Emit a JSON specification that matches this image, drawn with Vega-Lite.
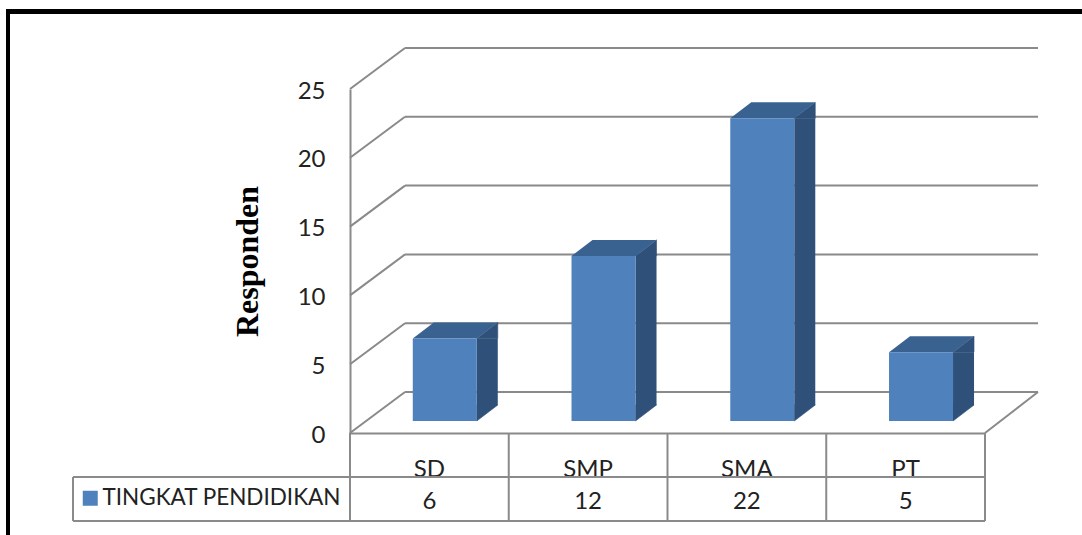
{
 "$schema":"https://vega.github.io/schema/vega-lite/v6.json",
 "width":635,"height":344,
 "autosize":{"type":"none"},
 "padding":{"left":350,"top":89,"right":97,"bottom":102},
 "background":"white",
 "config":{"view":{"stroke":null},"font":"Lato"},
 "data":{"values":[
  {"kategori":"SD","responden":6,"seri":"TINGKAT PENDIDIKAN"},
  {"kategori":"SMP","responden":12,"seri":"TINGKAT PENDIDIKAN"},
  {"kategori":"SMA","responden":22,"seri":"TINGKAT PENDIDIKAN"},
  {"kategori":"PT","responden":5,"seri":"TINGKAT PENDIDIKAN"}
 ]},
 "layer":[
  {"data":{"values":[{"t":0},{"t":5},{"t":10},{"t":15},{"t":20},{"t":25}]},
   "mark":{"type":"rule","stroke":"#8a8a8a","strokeWidth":2,"yOffset":-41},
   "encoding":{"x":{"value":55},"x2":{"value":688},
    "y":{"field":"t","type":"quantitative","scale":{"domain":[0,25],"nice":false},
      "axis":{"title":"Responden","titleFont":"Liberation Serif","titleFontWeight":"bold","titleFontSize":32,"titleColor":"black","titleX":-86,"values":[0,5,10,15,20,25],"grid":false,"ticks":false,"labelFont":"Lato","labelFontSize":24,"labelColor":"#222222","labelPadding":25,"labelOffset":2,"domainColor":"#8a8a8a","domainWidth":2}}}},
  {"data":{"values":[{"t":0},{"t":5},{"t":10},{"t":15},{"t":20},{"t":25}]},
   "mark":{"type":"point","shape":"M0,0L55,-41","size":4,"filled":false,"stroke":"#8a8a8a","strokeWidth":2,"opacity":1},
   "encoding":{"x":{"value":0},"y":{"field":"t","type":"quantitative","scale":{"domain":[0,25],"nice":false}}}},
  {"data":{"values":[{"t":0}]},
   "mark":{"type":"point","shape":"M0,0L53,-41","size":4,"filled":false,"stroke":"#8a8a8a","strokeWidth":2,"opacity":1},
   "encoding":{"x":{"value":635},"y":{"field":"t","type":"quantitative","scale":{"domain":[0,25],"nice":false}}}},
  {"mark":{"type":"bar","width":21,"xOffset":57.9,"yOffset":-12,"y2Offset":-28,"color":"#2f5179"},
   "encoding":{
    "x":{"field":"kategori","type":"nominal","sort":null,"scale":{"type":"band","domain":["SD","SMP","SMA","PT"],"paddingInner":0,"paddingOuter":0},
      "axis":{"title":null,"labelAngle":0,"labelFont":"Lato","labelFontSize":24,"labelColor":"#222222","labelPadding":24,"ticks":false,"domainColor":"#8a8a8a","domainWidth":2}},
    "y":{"field":"responden","type":"quantitative","stack":null,"scale":{"domain":[0,25],"nice":false}},
    "y2":{"datum":0}}},
  {"mark":{"type":"point","shape":"M47.4,-12L68.4,-28L68.4,-12Z","size":4,"filled":true,"color":"#2f5179","stroke":"#2f5179","opacity":1,"strokeWidth":0.6},
   "encoding":{"x":{"field":"kategori","type":"nominal","sort":null},"y":{"field":"responden","type":"quantitative","scale":{"domain":[0,25],"nice":false}}}},
  {"mark":{"type":"point","shape":"M47.4,-12L68.4,-28L47.4,-28Z","size":4,"filled":true,"color":"#2f5179","stroke":"#2f5179","opacity":1,"strokeWidth":0.6},
   "encoding":{"x":{"field":"kategori","type":"nominal","sort":null},"y":{"datum":0,"scale":{"domain":[0,25],"nice":false}}}},
  {"mark":{"type":"point","shape":"M-16.6,-12L47.4,-12L68.4,-28L4.4,-28Z","size":4,"filled":true,"color":"#3a6291","opacity":1,"strokeWidth":0},
   "encoding":{"x":{"field":"kategori","type":"nominal","sort":null},"y":{"field":"responden","type":"quantitative","scale":{"domain":[0,25],"nice":false}}}},
  {"mark":{"type":"bar","width":64,"xOffset":15.4,"yOffset":-12,"y2Offset":-12},
   "encoding":{
    "x":{"field":"kategori","type":"nominal","sort":null},
    "y":{"field":"responden","type":"quantitative","stack":null,"scale":{"domain":[0,25],"nice":false}},
    "y2":{"datum":0},
    "color":{"field":"seri","type":"nominal","scale":{"range":["#4f81bd"]},
      "legend":{"title":null,"orient":"none","legendX":-271,"legendY":398,"symbolType":"square","symbolSize":225,"symbolStrokeWidth":0,"labelFont":"Lato","labelFontSize":22.5,"labelColor":"#222222","labelOffset":1,"labelLimit":320}}}},
  {"mark":{"type":"rule","stroke":"#8a8a8a","strokeWidth":2,"y2Offset":88},
   "encoding":{"x":{"field":"kategori","type":"nominal","sort":null,"bandPosition":0},"y":{"datum":0},"y2":{"datum":0}}},
  {"data":{"values":[{"k":"PT"}]},
   "mark":{"type":"rule","stroke":"#8a8a8a","strokeWidth":2,"y2Offset":88},
   "encoding":{"x":{"field":"k","type":"nominal","sort":null,"bandPosition":1},"y":{"datum":0},"y2":{"datum":0}}},
  {"data":{"values":[{"o":0}]},
   "mark":{"type":"rule","stroke":"#8a8a8a","strokeWidth":2,"yOffset":44},
   "encoding":{"x":{"value":-277},"x2":{"value":635},"y":{"datum":0}}},
  {"data":{"values":[{"o":0}]},
   "mark":{"type":"rule","stroke":"#8a8a8a","strokeWidth":2,"yOffset":88},
   "encoding":{"x":{"value":-277},"x2":{"value":635},"y":{"datum":0}}},
  {"data":{"values":[{"o":0}]},
   "mark":{"type":"rule","stroke":"#8a8a8a","strokeWidth":2,"yOffset":44,"y2Offset":88},
   "encoding":{"x":{"value":-277},"y":{"datum":0},"y2":{"datum":0}}},
  {"mark":{"type":"text","font":"Lato","fontSize":24,"color":"#222222","yOffset":69,"baseline":"middle"},
   "encoding":{"x":{"field":"kategori","type":"nominal","sort":null},"y":{"datum":0},"text":{"field":"responden","type":"quantitative"}}},
  {"data":{"values":[{"o":0}]},
   "mark":{"type":"rule","stroke":"black","strokeWidth":5},
   "encoding":{"x":{"value":-344},"x2":{"value":732},"y":{"value":-77.5}}},
  {"data":{"values":[{"o":0}]},
   "mark":{"type":"rule","stroke":"black","strokeWidth":4},
   "encoding":{"x":{"value":-342},"y":{"value":-80},"y2":{"value":446}}}
 ]
}
